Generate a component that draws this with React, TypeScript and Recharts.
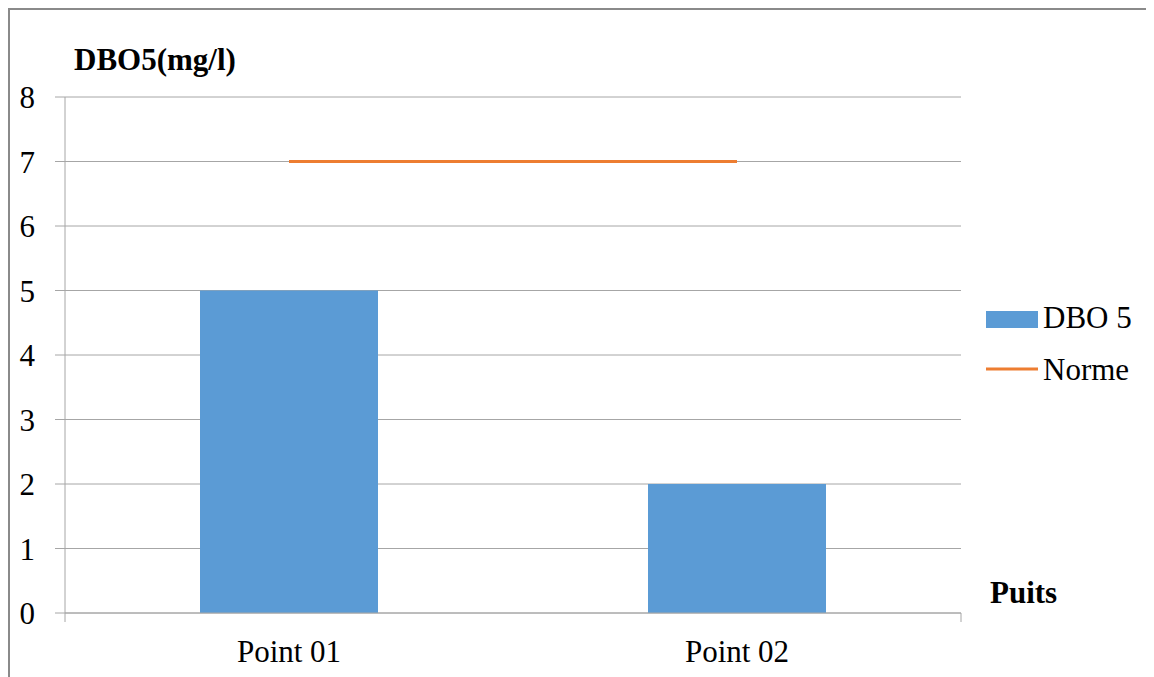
import React from 'react';
import {
  Bar,
  CartesianGrid,
  ComposedChart,
  Line,
  XAxis,
  YAxis,
} from 'recharts';

const points = ['Point 01', 'Point 02'];
const dbo5 = [5, 2];
const norme = [7, 7];
const yTicks = [0, 1, 2, 3, 4, 5, 6, 7, 8];

const data = points.map((name, i) => ({ name, dbo5: dbo5[i], norme: norme[i] }));

const FONT = '"Liberation Serif", "Times New Roman", serif';
const FS = 31;
const GRID = '#a6a6a6';

// legend drawn beside the plot, same as the Excel one
const LegendBox = () => (
  <svg
    width={170}
    height={100}
    style={{ position: 'absolute', left: 976, top: 290, fontFamily: FONT }}
  >
    <rect x={0} y={11} width={52} height={17} fill='#5B9BD5' />
    <text x={57} y={28} fontSize={FS} fill='#000'>DBO 5</text>
    <line x1={0} x2={52} y1={69} y2={69} stroke='#ED7D31' strokeWidth={3} />
    <text x={57} y={80} fontSize={FS} fill='#000'>Norme</text>
  </svg>
);

const App = () => {
  return (
    <div
      style={{
        position: 'relative',
        width: 1144,
        height: 667,
        borderTop: '2px solid #8a8a8a',
        borderLeft: '2px solid #8a8a8a',
        fontFamily: FONT,
      }}
    >
      <style>{'html,body{overflow:hidden}'}</style>
      <ComposedChart
        width={1144}
        height={667}
        data={data}
        margin={{ top: 87, right: 193, bottom: 15, left: 0 }}
      >
        <CartesianGrid xAxisId='b' vertical={false} stroke={GRID} strokeWidth={1} />
        {/* boundary ticks between categories */}
        <XAxis
          xAxisId='a'
          type='number'
          domain={[0, 2]}
          ticks={[0, 1, 2]}
          tickFormatter={() => ''}
          tickSize={9}
          tickMargin={0}
          height={9}
          stroke={GRID}
          tickLine={{ stroke: GRID, strokeWidth: 1 }}
        />
        <XAxis
          xAxisId='b'
          dataKey='name'
          height={40}
          tickSize={0}
          tickLine={false}
          axisLine={false}
          tickMargin={18}
          tick={{ fontSize: FS, fill: '#000', fontFamily: FONT }}
          label={{
            content: () => (
              <text x={980} y={593} fontSize={FS} fontWeight='bold' fill='#000' fontFamily={FONT}>
                Puits
              </text>
            ),
          }}
        />
        <YAxis
          width={55}
          domain={[0, 8]}
          ticks={yTicks}
          interval={0}
          tickSize={10}
          tickMargin={20}
          stroke={GRID}
          tickLine={{ stroke: GRID }}
          tick={{ fontSize: FS, fill: '#000', fontFamily: FONT }}
          label={{
            content: () => (
              <text x={64} y={60} fontSize={FS} fontWeight='bold' fill='#000' fontFamily={FONT}>
                DBO5(mg/l)
              </text>
            ),
          }}
        />
        <Bar
          xAxisId='b'
          dataKey='dbo5'
          name='DBO 5'
          fill='#5B9BD5'
          barSize={178}
          isAnimationActive={false}
        />
        <Line
          xAxisId='b'
          dataKey='norme'
          name='Norme'
          stroke='#ED7D31'
          strokeWidth={3}
          dot={false}
          activeDot={false}
          isAnimationActive={false}
        />
      </ComposedChart>
      <LegendBox />
    </div>
  );
};

export default App;
